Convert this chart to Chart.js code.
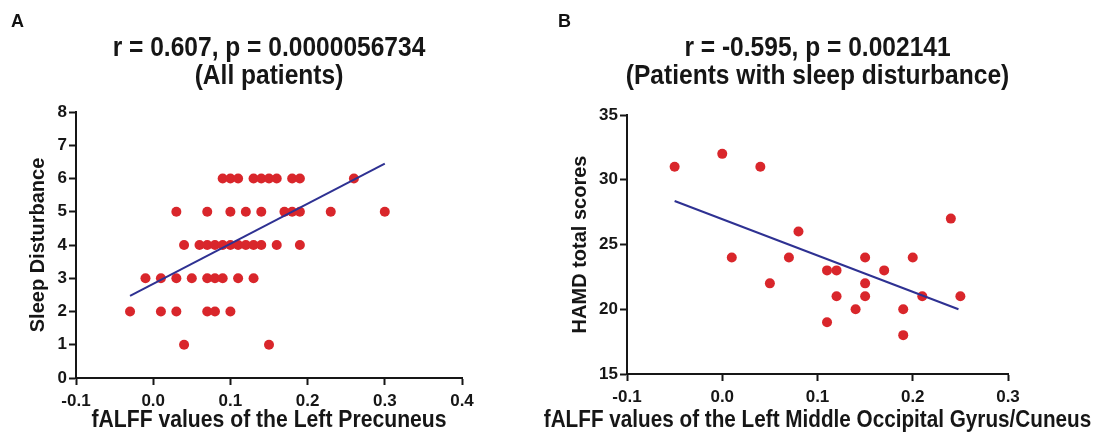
<!DOCTYPE html>
<html lang="en">
<head>
    <meta charset="UTF-8">
    <title>fALFF correlations</title>
    <style>
        body {
            margin: 0;
            background-color: #fff;
            font-family: "Liberation Sans", Arial, sans-serif;
        }
        .page {
            position: relative;
            width: 1097px;
            height: 436px;
            overflow: hidden;
        }
        .panel {
            position: absolute;
            top: 0;
        }
        .letter {
            position: absolute;
            top: 11px;
            font-size: 18px;
            font-weight: bold;
            color: #111;
        }
    </style>
    <script src="https://cdn.jsdelivr.net/npm/chart.js"></script>
</head>
<body>
    <div class="page">
        <canvas id="chartA" class="panel" style="left:0px" width="526" height="436"></canvas>
        <canvas id="chartB" class="panel" style="left:538px" width="559" height="436"></canvas>
        <div class="letter" style="left:11px">A</div>
        <div class="letter" style="left:558px">B</div>
    </div>

    <script>
        // Panel A: all patients
        const aX = [
            0.09, 0.10, 0.11, 0.13, 0.14, 0.15, 0.16, 0.18, 0.19, 0.26,
            0.03, 0.07, 0.10, 0.12, 0.14, 0.17, 0.18, 0.19, 0.23, 0.30,
            0.04, 0.06, 0.07, 0.08, 0.09, 0.10, 0.11, 0.12, 0.13, 0.14, 0.16, 0.19,
            -0.01, 0.01, 0.03, 0.05, 0.07, 0.08, 0.09, 0.11, 0.13,
            -0.03, 0.01, 0.03, 0.07, 0.08, 0.10,
            0.04, 0.15
        ];
        const aY = [
            6, 6, 6, 6, 6, 6, 6, 6, 6, 6,
            5, 5, 5, 5, 5, 5, 5, 5, 5, 5,
            4, 4, 4, 4, 4, 4, 4, 4, 4, 4, 4, 4,
            3, 3, 3, 3, 3, 3, 3, 3, 3,
            2, 2, 2, 2, 2, 2,
            1, 1
        ];
        const aFitX = [-0.03, 0.30];
        const aFitY = [2.47, 6.45];
        const aXTicks = [-0.1, 0.0, 0.1, 0.2, 0.3, 0.4];
        const aYTicks = [0, 1, 2, 3, 4, 5, 6, 7, 8];
        const aTitle = ['r = 0.607, p = 0.0000056734', '(All patients)'];

        // Panel B: patients with sleep disturbance
        const bX = [-0.05, 0.00, 0.04, 0.01, 0.05, 0.07, 0.08, 0.11, 0.12, 0.12, 0.11,
                    0.14, 0.15, 0.15, 0.15, 0.17, 0.19, 0.19, 0.20, 0.21, 0.24, 0.25];
        const bY = [31, 32, 31, 24, 22, 24, 26, 23, 23, 21, 19,
                    20, 24, 22, 21, 23, 20, 18, 24, 21, 27, 21];
        const bFitX = [-0.05, 0.248];
        const bFitY = [28.36, 20.0];
        const bXTicks = [-0.1, 0.0, 0.1, 0.2, 0.3];
        const bYTicks = [15, 20, 25, 30, 35];
        const bTitle = ['r = -0.595, p = 0.002141', '(Patients with sleep disturbance)'];

        const FONT = '"Liberation Sans", Arial, sans-serif';
        const INK = '#161616';

        // the figure's lettering is a bit narrower than Arial, so squeeze it
        const panelText = {
            id: 'panelText',
            afterDraw(chart, args, opts) {
                const ctx = chart.ctx;
                const area = chart.chartArea;
                const cx = (area.left + area.right) / 2;
                ctx.save();
                ctx.fillStyle = INK;
                ctx.textAlign = 'center';
                ctx.textBaseline = 'middle';
                opts.lines.forEach(l => {
                    ctx.save();
                    ctx.translate(cx, l.y);
                    ctx.scale(l.squeeze, 1);
                    ctx.font = 'bold ' + l.size + 'px ' + FONT;
                    ctx.fillText(l.text, 0, 0);
                    ctx.restore();
                });
                ctx.restore();
            }
        };

        function toPoints(xs, ys) {
            return xs.map((x, i) => ({ x: x, y: ys[i] }));
        }

        function makeChart(id, cfg) {
            const ctx = document.getElementById(id).getContext('2d');
            return new Chart(ctx, {
                type: 'scatter',
                plugins: [panelText],
                data: {
                    datasets: [{
                        type: 'line',
                        data: toPoints(cfg.fitX, cfg.fitY),
                        borderColor: '#2e3192',
                        borderWidth: 2,
                        pointRadius: 0,
                        fill: false,
                        order: 0
                    }, {
                        data: toPoints(cfg.x, cfg.y),
                        backgroundColor: '#d9262b',
                        borderWidth: 0,
                        pointRadius: 5,
                        order: 1
                    }]
                },
                options: {
                    responsive: false,
                    animation: false,
                    devicePixelRatio: 1,
                    layout: { padding: { left: 0, right: cfg.padRight, top: cfg.padTop, bottom: 0 } },
                    plugins: {
                        legend: { display: false },
                        tooltip: { enabled: false },
                        title: { display: false },
                        panelText: {
                            lines: [
                                { text: cfg.title[0], y: 48, size: 28, squeeze: 0.877 },
                                { text: cfg.title[1], y: 76, size: 28, squeeze: 0.877 },
                                { text: cfg.xTitle, y: 421, size: 23, squeeze: cfg.xSqueeze }
                            ]
                        }
                    },
                    scales: {
                        x: {
                            type: 'linear',
                            min: cfg.xTicks[0],
                            max: cfg.xTicks[cfg.xTicks.length - 1],
                            afterBuildTicks: function (scale) {
                                scale.ticks = cfg.xTicks.map(v => ({ value: v }));
                            },
                            afterFit: function (scale) { scale.height = cfg.xHeight; },
                            border: { display: true, color: INK, width: 2 },
                            grid: { drawOnChartArea: false, drawTicks: true, tickLength: 7, tickWidth: 2, tickColor: INK },
                            ticks: {
                                color: INK,
                                padding: 6,
                                maxRotation: 0,
                                font: { family: FONT, size: 17, weight: 'bold' },
                                callback: function (v) { return v.toFixed(1); }
                            }
                        },
                        y: {
                            type: 'linear',
                            min: cfg.yTicks[0],
                            max: cfg.yTicks[cfg.yTicks.length - 1],
                            afterBuildTicks: function (scale) {
                                scale.ticks = cfg.yTicks.map(v => ({ value: v }));
                            },
                            afterFit: function (scale) { scale.width = cfg.yWidth; },
                            border: { display: true, color: INK, width: 2 },
                            grid: { drawOnChartArea: false, drawTicks: true, tickLength: 7, tickWidth: 2, tickColor: INK },
                            ticks: {
                                color: INK,
                                padding: 2,
                                font: { family: FONT, size: 17, weight: 'bold' },
                                callback: function (v) { return String(v); }
                            },
                            title: {
                                display: true,
                                text: cfg.yTitle,
                                color: INK,
                                font: { family: FONT, size: 20, weight: 'bold' },
                                padding: { top: cfg.yTitlePad, bottom: 0 }
                            }
                        }
                    }
                }
            });
        }

        makeChart('chartA', {
            x: aX, y: aY, fitX: aFitX, fitY: aFitY,
            xTicks: aXTicks, yTicks: aYTicks,
            title: aTitle,
            xTitle: 'fALFF values of the Left Precuneus',
            yTitle: 'Sleep Disturbance',
            padRight: 64, padTop: 112, yWidth: 76, xHeight: 58, yTitlePad: 26, xSqueeze: 0.92
        });

        makeChart('chartB', {
            x: bX, y: bY, fitX: bFitX, fitY: bFitY,
            xTicks: bXTicks, yTicks: bYTicks,
            title: bTitle,
            xTitle: 'fALFF values of the Left Middle Occipital Gyrus/Cuneus',
            yTitle: 'HAMD total scores',
            padRight: 89, padTop: 115, yWidth: 89, xHeight: 62, yTitlePad: 30, xSqueeze: 0.9
        });
    </script>
</body>
</html>
